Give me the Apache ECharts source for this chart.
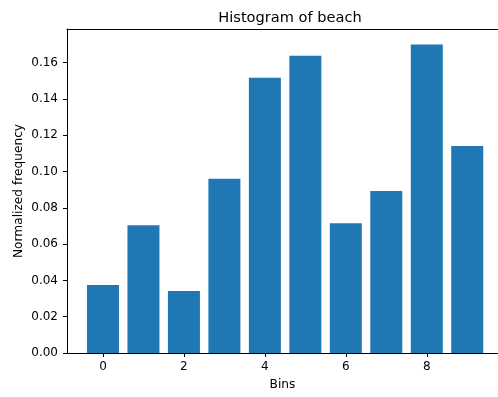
<!DOCTYPE html>
<html><head><meta charset="utf-8">
<script src="https://cdn.jsdelivr.net/npm/echarts@6/dist/echarts.min.js"></script>
<style>html,body{margin:0;padding:0;background:#fff}#c{width:498px;height:397px}</style>
</head><body><div id="c"></div>
<script>
const bins = [0,1,2,3,4,5,6,7,8,9];
const freq = [0.0374,0.0704,0.0342,0.0960,0.1517,0.1638,0.0715,0.0892,0.1699,0.1140];
const xTicks = [0,2,4,6,8];
const titleText = 'Histogram of beach';
const xName = 'Bins';
const yName = 'Normalized frequency';

const font = 'DejaVu Sans';
const xMin = -0.889, xMax = 9.76;
const chart = echarts.init(document.getElementById('c'), null, {renderer:'canvas'});
chart.setOption({
  animation:false,
  title:{text:titleText,left:285,top:6,textAlign:'center',textStyle:{fontFamily:font,fontSize:14.6,fontWeight:'normal',color:'#000'}},
  grid:{left:67,right:0,top:29,bottom:44,containLabel:false},
  xAxis:[{type:'value',min:xMin,max:xMax,
    name:xName,nameLocation:'middle',nameGap:26,nameMoveOverlap:false,nameTextStyle:{fontFamily:font,fontSize:12.2,color:'#000'},
    axisLine:{show:true,onZero:false,lineStyle:{color:'#000',width:1}},
    axisTick:{show:true,customValues:xTicks,length:4,lineStyle:{color:'#000'}},
    axisLabel:{customValues:xTicks,fontFamily:font,fontSize:12,color:'#000',margin:8},
    splitLine:{show:false}},
   {type:'value',position:'top',min:xMin,max:xMax,
    axisLine:{show:true,onZero:false,lineStyle:{color:'#000',width:1}},
    axisTick:{show:false},axisLabel:{show:false},splitLine:{show:false}}],
  yAxis:{type:'value',min:0,max:0.1785,interval:0.02,
    name:yName,nameLocation:'middle',nameGap:42,nameMoveOverlap:false,nameTextStyle:{fontFamily:font,fontSize:12.2,color:'#000'},
    axisLine:{show:true,onZero:false,lineStyle:{color:'#000',width:1}},
    axisTick:{show:true,length:4,lineStyle:{color:'#000'}},
    axisLabel:{fontFamily:font,fontSize:12,color:'#000',margin:9,showMaxLabel:false,formatter:v=>v.toFixed(2)},
    splitLine:{show:false}},
  series:[{type:'bar',xAxisIndex:0,data:bins.map((b,i)=>[b,freq[i]]),barWidth:32,
    itemStyle:{color:'#1f77b4'}}]
});
</script></body></html>
